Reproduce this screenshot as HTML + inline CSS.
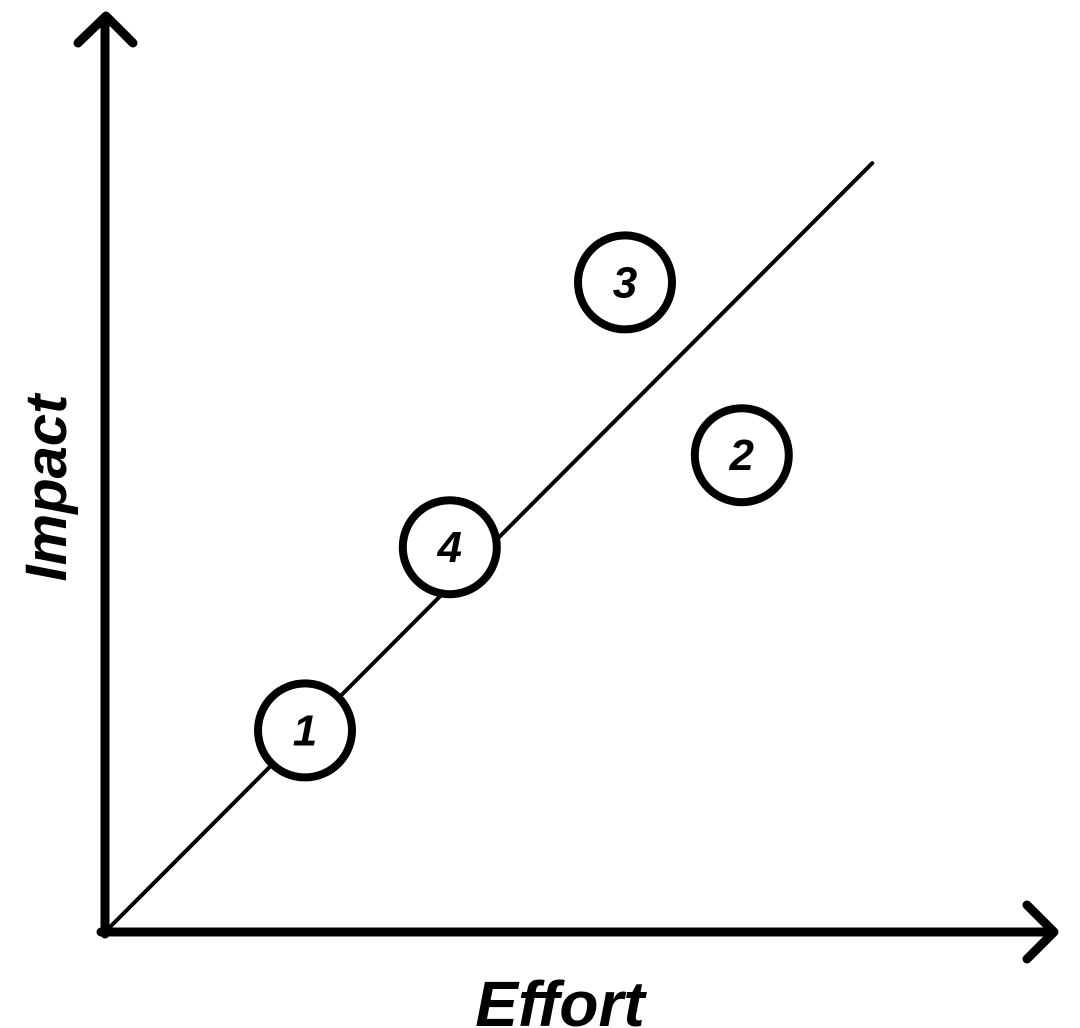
<!DOCTYPE html>
<html><head><meta charset="utf-8"><style>
html,body{margin:0;padding:0;background:#fff;width:1080px;height:1028px;overflow:hidden}
svg{display:block}
text{font-family:"Liberation Sans",sans-serif;font-weight:bold;font-style:italic;fill:#000}
</style></head><body>
<svg id="chart" width="1080" height="1028" viewBox="0 0 1080 1028" xmlns="http://www.w3.org/2000/svg">
<g id="marks"></g>
<g>
<line x1="105" y1="934" x2="105" y2="18" stroke="#000" stroke-width="9" stroke-linecap="round"/>
<polyline points="78,43 106,16 133,43" fill="none" stroke="#000" stroke-width="9" stroke-linecap="round" stroke-linejoin="round"/>
<line x1="101" y1="932" x2="1052" y2="932" stroke="#000" stroke-width="9" stroke-linecap="round"/>
<polyline points="1027,905 1054,932 1027,959" fill="none" stroke="#000" stroke-width="9" stroke-linecap="round" stroke-linejoin="round"/>
</g>
<text x="560" y="1026" font-size="64" text-anchor="middle">Effort</text>
<text x="0" y="0" font-size="58" text-anchor="middle" transform="translate(66,488) rotate(-90)">Impact</text>
</svg>
<script>
const labels = ["1","2","3","4"];
const effort = [2.5, 7.96, 6.5, 4.31];
const impact = [2.52, 5.96, 8.12, 4.81];
const trendEnd = [9.59, 9.61];
function xs(v){return 105 + v*80;}
function ys(v){return 932 - v*80;}
const NS="http://www.w3.org/2000/svg";
const g=document.getElementById('marks');
const tl=document.createElementNS(NS,'line');


tl.setAttribute('x1',xs(0));tl.setAttribute('y1',ys(0));
tl.setAttribute('x2',xs(trendEnd[0]));tl.setAttribute('y2',ys(trendEnd[1]));
tl.setAttribute('stroke','#000');tl.setAttribute('stroke-width','4');tl.setAttribute('stroke-linecap','round');
g.appendChild(tl);
for(let i=0;i<labels.length;i++){
  const grp=document.createElementNS(NS,'g');
  
  
  const c=document.createElementNS(NS,'circle');
  
  
  c.setAttribute('cx',xs(effort[i]));c.setAttribute('cy',ys(impact[i]));c.setAttribute('r','47');
  c.setAttribute('fill','#fff');c.setAttribute('stroke','#000');c.setAttribute('stroke-width','8');
  grp.appendChild(c);
  const t=document.createElementNS(NS,'text');
  
  
  t.setAttribute('x',xs(effort[i]));t.setAttribute('y',ys(impact[i])+15);
  t.setAttribute('font-size','44');t.setAttribute('text-anchor','middle');
  t.textContent=labels[i];
  grp.appendChild(t);
  g.appendChild(grp);
}
</script>
</body></html>
